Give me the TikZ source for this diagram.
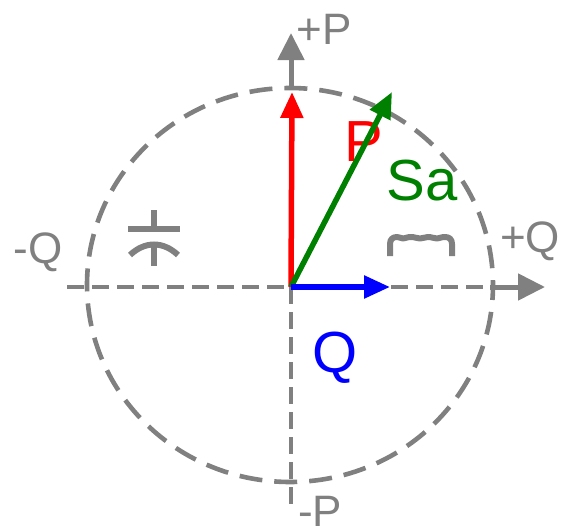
\documentclass[tikz,border=0pt]{standalone}
\usepackage{fontspec}
\setmainfont{Liberation Sans}
\usetikzlibrary{arrows.meta}
\definecolor{axisgray}{RGB}{128,128,128}
\definecolor{sgreen}{RGB}{0,128,0}
\tikzset{
  x=1pt,y=-1pt,
  axisline/.style={draw=axisgray,line width=3.2pt,dash pattern=on 17pt off 8pt},
  ring/.style={draw=axisgray,line width=4.6pt,dash pattern=on 23pt off 12pt,dash phase=8pt},
  solidax/.style={draw=axisgray,line width=5pt,-{Triangle[length=27pt,width=26pt]}},
  vec/.style={line width=5.5pt,-{Triangle[length=26pt,width=22pt]}},
  lab/.style={inner sep=0pt,font=\fontsize{44pt}{44pt}\selectfont},
  big/.style={inner sep=0pt,font=\fontsize{58pt}{58pt}\selectfont},
  sym/.style={draw=axisgray,line width=6pt}
}
\begin{document}
\begin{tikzpicture}
\useasboundingbox (0,0) rectangle (563,530);
\coordinate (O) at (291,287);
\coordinate (L) at (67,287);
\coordinate (R) at (490,287);
\coordinate (Rtip) at (545,287);
\coordinate (B) at (291,511);
\coordinate (T) at (291,90);
\coordinate (Ttip) at (291,33);
\coordinate (Pt) at (292,92);
\coordinate (St) at (392,92);
\coordinate (Qt) at (390,287);
% circle
\draw[ring] (290,285) ellipse [x radius=203,y radius=197];
% dashed axes
\draw[axisline] (L) -- (O);
\draw[axisline] (O) -- (R);
\draw[axisline] (O) -- (B);
% axis ends
\draw[solidax] (R) -- (Rtip);
\draw[solidax] (T) -- (Ttip);
% labels
\node[lab,text=axisgray] (lp) at (324,29) {+P};
\node[lab,text=axisgray] (lq) at (38,252) {-Q};
\node[lab,text=axisgray] (lpq) at (530,241) {+Q};
\node[lab,text=axisgray] (lmp) at (320,511) {-P};
\node[big,text=red] (pl) at (364,142) {P};
\node[big,text=sgreen] (sa) at (422,181) {Sa};
\node[big,text=blue] (ql) at (335,358) {Q};
% capacitor
\draw[sym] (128,229) -- (180,229);
\draw[sym] (154,210) -- (154,229);
\draw[sym] (130,255) .. controls (145,241) and (163,241) .. (178,255);
\draw[sym] (154,245) -- (154,266);
% inductor
\draw[sym,line join=round] (390,256) -- (390,244) .. controls (390,239) and (393,237) .. (397,237)
 .. controls (400,237) and (401,238.5) .. (403,238.5) .. controls (405,238.5) and (407,237) .. (411,237)
 .. controls (415,237) and (417,238.5) .. (420,238.5) .. controls (423,238.5) and (425,237) .. (428,237)
 .. controls (432,237) and (434,238.5) .. (437,238.5) .. controls (439,238.5) and (441,237) .. (445,237)
 .. controls (449,237) and (452,239) .. (452,244) -- (452,256);
% vectors
\draw[vec,draw=red,fill=red] (O) -- (Pt);
\draw[vec,draw=sgreen,fill=sgreen] (O) -- (St);
\draw[vec,draw=blue,fill=blue] (O) -- (Qt);
\end{tikzpicture}
\end{document}
